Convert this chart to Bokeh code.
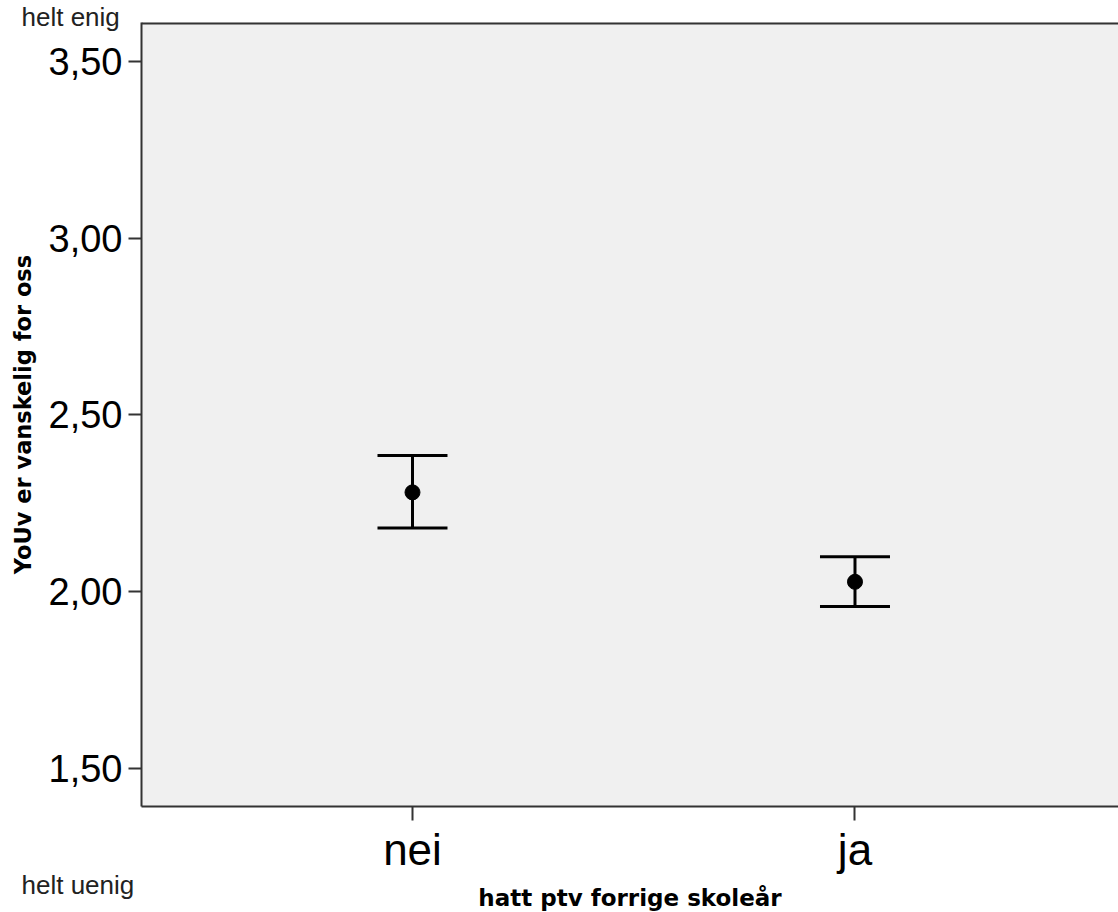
from bokeh.plotting import figure
from bokeh.models import (ColumnDataSource, Whisker, TeeHead, FixedTicker,
                          Span, Title, Range1d)
from bokeh.embed import file_html
from bokeh.resources import INLINE

# ---- data ----
categories = ["nei", "ja"]
means = [2.281, 2.028]
upper = [2.385, 2.099]
lower = [2.180, 1.958]
y_ticks = [1.5, 2.0, 2.5, 3.0, 3.5]
y_tick_labels = ["1,50", "2,00", "2,50", "3,00", "3,50"]
x_title = "hatt ptv forrige skoleår"
y_title = "YoUv er vanskelig for oss"
top_note = "helt enig"
bottom_note = "helt uenig"

xpos = [i + 1 for i in range(len(categories))]
src = ColumnDataSource(dict(x=xpos, mean=means, upper=upper, lower=lower))

p = figure(width=1118, height=912, output_backend="svg", toolbar_location=None,
           x_range=Range1d(0.3876, 2.5955), y_range=Range1d(1.3925, 3.610),
           min_border_left=141, min_border_right=0, min_border_top=22,
           min_border_bottom=106)
p.background_fill_color = "#F0F0F0"
p.border_fill_color = "white"
p.outline_line_color = None
p.xgrid.visible = False
p.ygrid.visible = False

axis_col = "#333333"

# top border of the plot frame
p.add_layout(Span(location=p.y_range.end, dimension="width",
                  line_color=axis_col, line_width=4))

# error bars
w = Whisker(source=src, base="x", upper="upper", lower="lower",
            line_color="black", line_width=3,
            upper_head=TeeHead(size=70, line_color="black", line_width=3),
            lower_head=TeeHead(size=70, line_color="black", line_width=3))
p.add_layout(w)
p.scatter("x", "mean", source=src, size=15, color="black")

# y axis
ya = p.yaxis[0]
ya.ticker = FixedTicker(ticks=y_ticks)
ya.major_label_overrides = {t: l for t, l in zip(y_ticks, y_tick_labels)}
ya.minor_tick_line_color = None
ya.major_tick_in = 0
ya.major_tick_out = 13
ya.major_tick_line_width = 2
ya.major_tick_line_color = axis_col
ya.axis_line_width = 2
ya.axis_line_color = axis_col
ya.major_label_text_font = "Liberation Sans"
ya.major_label_text_font_size = "38px"
ya.major_label_text_color = "black"
ya.major_label_standoff = 6
ya.axis_label = y_title
ya.axis_label_text_font = "DejaVu Sans"
ya.axis_label_text_font_style = "bold"
ya.axis_label_text_font_size = "22.5px"
ya.axis_label_text_color = "black"
ya.axis_label_standoff = 10

# x axis
xa = p.xaxis[0]
xa.ticker = FixedTicker(ticks=xpos)
xa.major_label_overrides = {x: c for x, c in zip(xpos, categories)}
xa.minor_tick_line_color = None
xa.major_tick_in = 0
xa.major_tick_out = 14
xa.major_tick_line_width = 2
xa.major_tick_line_color = axis_col
xa.axis_line_width = 2
xa.axis_line_color = axis_col
xa.major_label_text_font = "Liberation Sans"
xa.major_label_text_font_size = "44px"
xa.major_label_text_color = "black"
xa.major_label_standoff = 4

# notes and x title as side-panel titles (not clipped by the frame)
p.add_layout(Title(text=top_note, align="left", vertical_align="top",
                   offset=-120, standoff=-24.5, text_font="Liberation Sans",
                   text_font_size="26px", text_font_style="normal",
                   text_color="#222222"), "above")
p.add_layout(Title(text=bottom_note, align="left", vertical_align="bottom",
                   offset=-120, standoff=-18, text_font="Liberation Sans",
                   text_font_size="26px", text_font_style="normal",
                   text_color="#222222"), "below")
p.add_layout(Title(text=x_title, align="center", vertical_align="bottom",
                   offset=8, standoff=-15, text_font="DejaVu Sans",
                   text_font_size="23px", text_font_style="bold",
                   text_color="black"), "below")

open("out.html", "w").write(file_html(p, INLINE))
